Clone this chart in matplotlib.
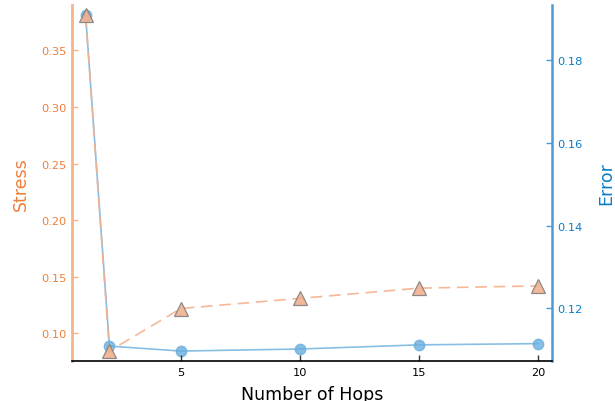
import matplotlib
matplotlib.use("Agg")
import matplotlib.pyplot as plt

hops = [1, 2, 5, 10, 15, 20]
stress = [0.381, 0.0846, 0.122, 0.131, 0.140, 0.142]
error = [0.1909, 0.1109, 0.1097, 0.1102, 0.1112, 0.1115]
xticks = [5, 10, 15, 20]
stress_ticks = [0.10, 0.15, 0.20, 0.25, 0.30, 0.35]
error_ticks = [0.12, 0.14, 0.16, 0.18]

orange_txt = "#EE7F3C"
orange_spine = "#F6B48C"
blue_txt = "#0B7CC4"
blue_spine = "#4C9BD6"

fig = plt.figure(figsize=(6.15, 4.02), dpi=100)
ax = fig.add_axes([72/615, 1-362/402, (552-72)/615, (362-6)/402])
ax2 = ax.twinx()

# error series (blue)
ax2.plot(hops, error, color="#6AAEDD", alpha=0.8, lw=1.2, marker="o",
         markersize=7.5, markerfacecolor="#6AAEDD", markeredgecolor="#6AAEDD",
         zorder=2)
ax2.set_zorder(1)
ax.set_zorder(2)
ax.patch.set_visible(False)

# stress series (orange)
ax.plot(hops, stress, color="#F6B08C", alpha=0.9, lw=1.2, ls=(0, (7, 4)),
        zorder=3)
ax.plot(hops, stress, ls="none", marker="^", markersize=10,
        markerfacecolor="#F2B08F", markeredgecolor="#808080",
        markeredgewidth=0.9, alpha=0.9, zorder=4)

ax.set_xlim(0.43, 20.57)
ax.set_ylim(0.0757, 0.3899)
ax2.set_ylim(0.1073, 0.1933)

ax.set_xticks(xticks)
ax.set_xticklabels([str(t) for t in xticks], fontsize=8.2)
ax.set_yticks(stress_ticks)
ax.set_yticklabels([f"{t:.2f}" for t in stress_ticks], fontsize=8.2, color=orange_txt)
ax2.set_yticks(error_ticks)
ax2.set_yticklabels([f"{t:.2f}" for t in error_ticks], fontsize=8.2, color=blue_txt)

ax.tick_params(axis="x", direction="in", length=4, width=1, color="#333333", pad=4)
ax.tick_params(axis="y", direction="in", length=4, width=1, color=orange_spine, pad=4)
ax2.tick_params(axis="y", direction="in", length=4, width=1, color=blue_spine, pad=4)

for a in (ax, ax2):
    a.spines["top"].set_visible(False)
ax.spines["right"].set_visible(False)
ax2.spines["left"].set_visible(False)
ax2.spines["bottom"].set_visible(False)
ax.spines["left"].set_color(orange_spine)
ax.spines["left"].set_linewidth(2)
ax2.spines["right"].set_color(blue_spine)
ax2.spines["right"].set_linewidth(1.8)
ax.spines["bottom"].set_color("black")
ax.spines["bottom"].set_linewidth(1.2)

ax.set_xlabel("Number of Hops", fontsize=12.5, labelpad=6)
ax.set_ylabel("Stress", fontsize=12.5, color=orange_txt, labelpad=8)
ax2.set_ylabel("Error", fontsize=12.5, color=blue_txt, labelpad=10)

fig.savefig("out.png", dpi=100)
